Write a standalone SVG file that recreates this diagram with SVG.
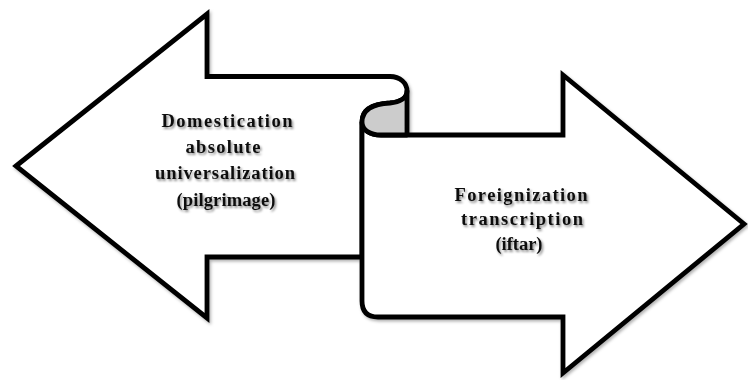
<svg xmlns="http://www.w3.org/2000/svg" width="748" height="380" viewBox="0 0 748 380">
  <defs>
    <filter id="shapeShadow" x="-5%" y="-5%" width="115%" height="115%">
      <feDropShadow dx="1.5" dy="2" stdDeviation="1.5" flood-color="#000" flood-opacity="0.3"/>
    </filter>
    <filter id="textShadow" x="-10%" y="-30%" width="125%" height="170%">
      <feDropShadow dx="1.5" dy="2" stdDeviation="1.3" flood-color="#000" flood-opacity="0.45"/>
    </filter>
  </defs>
  <style>
    .shape { fill: #ffffff; stroke: #000000; stroke-width: 4.8; stroke-linejoin: miter; stroke-miterlimit: 10; }
    .curl { fill: #cccccc; stroke: #000000; stroke-width: 4.8; stroke-linejoin: round; }
    .label { font-family: "Liberation Serif", "Times New Roman", serif; font-size: 18.5px; font-weight: bold; fill: #111111; text-anchor: middle; }
  </style>
  <rect x="0" y="0" width="748" height="380" fill="#ffffff"/>

  <g id="connectors"></g>

  <g id="ribbon" filter="url(#shapeShadow)">
    <g id="left-arrow">
      <path class="shape" d="M16,166 L207,14 L207,76.5 L390,76.5 C400,76.5 407,83 407,91 C407,98 400,102 390,103 C372,104 362,110 362,122 L362,257 L207,257 L207,318 Z"/>
    </g>
    <g id="right-arrow">
      <path class="shape" d="M362,122 L362,301 Q362,317 378,317 L563,317 L563,373 L744,224 L563,75 L563,135 L381,135 C370,135 362,130 362,122 Z"/>
    </g>
    <g id="curl">
      <path class="curl" d="M407,91 L407,135 L381,135 C370,135 362,130 362,122 C362,110 372,104 390,103 C400,102 407,98 407,91 Z"/>
    </g>
  </g>

  <g id="left-label" filter="url(#textShadow)">
    <text class="label" x="227" y="126.5" textLength="131" lengthAdjust="spacing">Domestication</text>
    <text class="label" x="223" y="152.5" textLength="75" lengthAdjust="spacing">absolute</text>
    <text class="label" x="225" y="178.5" textLength="140" lengthAdjust="spacing">universalization</text>
    <text class="label" x="226" y="205.5" textLength="99" lengthAdjust="spacing">(pilgrimage)</text>
  </g>

  <g id="right-label" filter="url(#textShadow)">
    <text class="label" x="521" y="200.5" textLength="133" lengthAdjust="spacing">Foreignization</text>
    <text class="label" x="522" y="225" textLength="122" lengthAdjust="spacing">transcription</text>
    <text class="label" x="519" y="249.5" textLength="47" lengthAdjust="spacing">(iftar)</text>
  </g>
</svg>
